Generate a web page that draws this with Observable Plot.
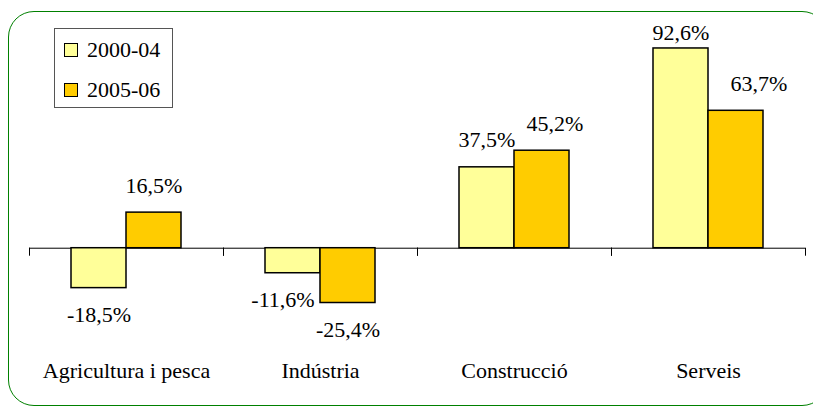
<!DOCTYPE html>
<html><head><meta charset="utf-8">
<script src="https://cdn.jsdelivr.net/npm/d3@7"></script>
<script src="https://cdn.jsdelivr.net/npm/@observablehq/plot@0.6"></script>
<style>
body{margin:0;background:#fff;}
#wrap{position:relative;width:813px;height:407px;overflow:hidden;font-family:"Liberation Serif","Tinos","Times New Roman","DejaVu Serif",serif;color:#000;}
#chart{position:absolute;left:0;top:0;}
#border{position:absolute;left:8px;top:11px;width:818px;height:393px;border:1.5px solid #008000;border-radius:26px;pointer-events:none;}
#legend{position:absolute;left:54px;top:28px;width:117px;height:78px;border:1px solid #555;background:#fff;}
.item{position:absolute;left:9px;font-size:22px;line-height:22px;height:22px;display:flex;align-items:center;white-space:nowrap;}
.sw{width:12px;height:12px;border:1.5px solid #000;margin-right:9px;flex:none;}
</style></head><body>
<div id="wrap"><div id="chart"></div><div id="legend"></div><div id="border"></div></div>
<script>
const categories = ["Agricultura i pesca", "Indústria", "Construcció", "Serveis"];
const seriesNames = ["2000-04", "2005-06"];
const values2000_04 = [-18.5, -11.6, 37.5, 92.6];
const values2005_06 = [16.5, -25.4, 45.2, 63.7];
const seriesColors = ["#FFFF99", "#FFCC00"];

const data = [];
categories.forEach((c, i) => {
  data.push({cat: c, series: seriesNames[0], value: values2000_04[i]});
  data.push({cat: c, series: seriesNames[1], value: values2005_06[i]});
});
const fmt = v => v.toFixed(1).replace(".", ",") + "%";

const W = 813, H = 407, MT = 32, MB = 73, ML = 29, MR = 8;
const Y_MIN = -40, Y_MAX = 100;
const plotH = H - MT - MB;
const k = plotH / (Y_MAX - Y_MIN);
const tickLen = 7;
const insetTop = Y_MAX * k;
const insetBottom = plotH - insetTop - tickLen;

const font = "'Liberation Serif', Tinos, 'Times New Roman', 'DejaVu Serif', serif";
const labelNudge = {
  "Serveis|2000-04": {dy: -16},
  "Serveis|2005-06": {dx: 23},
  "Construcció|2005-06": {dx: 13},
  "Indústria|2000-04": {dx: -10}
};
const labelMarks = data.map(d => {
  const n = labelNudge[d.cat + "|" + d.series] || {};
  return Plot.text([d], {
    fx: "cat", x: "series", y: "value", text: v => fmt(v.value),
    dx: n.dx || 0, dy: n.dy !== undefined ? n.dy : (d.value > 0 ? -27 : 27),
    fill: "#000"
  });
});

const chart = Plot.plot({
  width: W, height: H,
  marginTop: MT, marginBottom: MB, marginLeft: ML, marginRight: MR,
  style: {fontSize: "22px", fontFamily: font, color: "#000", background: "transparent"},
  fx: {domain: categories, padding: 0, axis: "bottom", tickSize: 0, tickPadding: 28, label: null},
  x: {domain: seriesNames, paddingInner: 0, paddingOuter: 0.75, axis: null},
  y: {domain: [Y_MIN, Y_MAX], axis: null},
  color: {domain: seriesNames, range: seriesColors},
  marks: [
    Plot.frame({anchor: "left", insetTop, insetBottom, stroke: "#000", strokeWidth: 1}),
    Plot.frame({anchor: "right", insetTop, insetBottom, stroke: "#000", strokeWidth: 1}),
    Plot.ruleY([0], {stroke: "#000", strokeWidth: 1}),
    Plot.barY(data, {fx: "cat", x: "series", y: "value", fill: "series", stroke: "#000", strokeWidth: 1.5}),
    ...labelMarks
  ]
});
chart.style.fontFamily = font;
document.getElementById("chart").appendChild(chart);

const legend = document.getElementById("legend");
seriesNames.forEach((s, i) => {
  const item = document.createElement("div");
  item.className = "item";
  item.style.top = (10 + i * 40) + "px";
  const sw = document.createElement("span");
  sw.className = "sw";
  sw.style.background = seriesColors[i];
  const t = document.createElement("span");
  t.textContent = s;
  item.appendChild(sw); item.appendChild(t);
  legend.appendChild(item);
});
</script>
</body></html>
